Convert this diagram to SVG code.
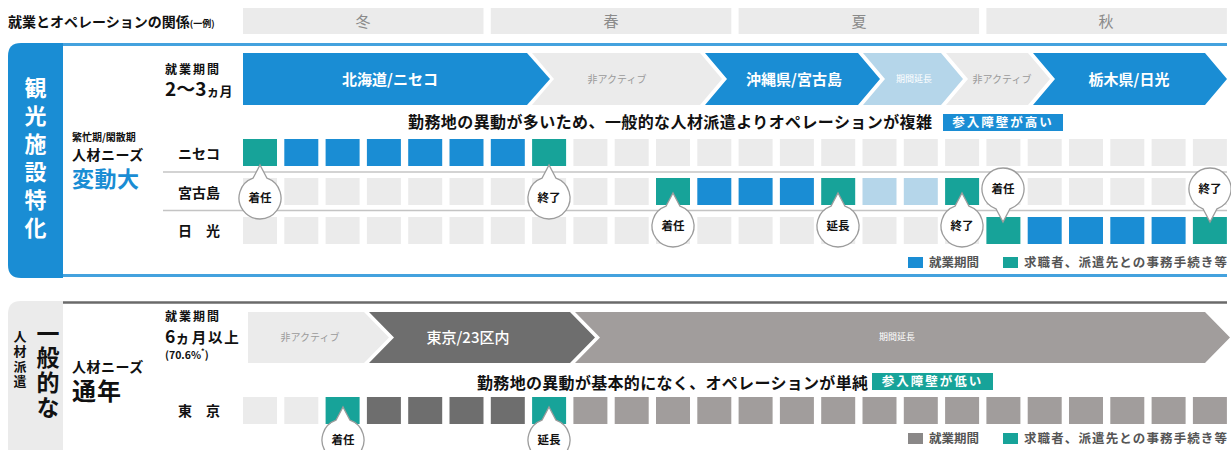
<svg xmlns="http://www.w3.org/2000/svg" xmlns:xlink="http://www.w3.org/1999/xlink" width="1231" height="450" viewBox="0 0 1231 450">
<style>
text{font-family:"Noto Sans CJK JP","Noto Sans",sans-serif;font-weight:700;fill:#111}
.g{fill:#ebebeb}.b{fill:#1a8dd4}.t{fill:#17a399}.lb{fill:#b5d6ea}.dg{fill:#6e6e6e}.mg{fill:#a19d9c}
.season{fill:#8a8a8a;font-size:15px;font-weight:400;text-anchor:middle}
.chw{fill:#fff;font-size:15px;text-anchor:middle}
.chg{fill:#9a9a9a;font-size:10px;font-weight:400;text-anchor:middle}
.chs{fill:#fff;font-size:9px;font-weight:400;text-anchor:middle}
.row{font-size:14px}
.co{fill:#fff;stroke:#9c9c9c;stroke-width:1.3}
.cot{font-size:11.5px;text-anchor:middle}
.leg{font-size:12.5px;fill:#555}
.rl{stroke:#c4c4c4;stroke-width:1.5}
.vt{writing-mode:vertical-rl;text-orientation:upright}
</style>
<defs>
<path id="cu" d="M-7,-19.8 L0,-33 L7,-19.8 A21,21 0 1 1 -7,-19.8 Z"/>
<path id="cd" d="M-7,19.8 L0,33 L7,19.8 A21,21 0 1 0 -7,19.8 Z"/>
</defs>
<rect width="1231" height="450" fill="#fff"/>

<g id="header">
<text x="8" y="27" font-size="14">就業とオペレーションの関係<tspan font-size="9">(一例)</tspan></text>
<rect class="g" x="243" y="8" width="240.5" height="26"/>
<rect class="g" x="490.8" y="8" width="240.5" height="26"/>
<rect class="g" x="738.6" y="8" width="240.5" height="26"/>
<rect class="g" x="986.4" y="8" width="240.5" height="26"/>
<text class="season" x="363" y="27">冬</text>
<text class="season" x="611" y="27">春</text>
<text class="season" x="859" y="27">夏</text>
<text class="season" x="1106" y="27">秋</text>
</g>

<g id="panel-tourism">
<line x1="55" y1="44.5" x2="1227" y2="44.5" stroke="#44a2de" stroke-width="3"/>
<line x1="55" y1="275.5" x2="1227" y2="275.5" stroke="#44a2de" stroke-width="3"/>
<path d="M63,43 L63,278 L21,278 Q8,278 8,265 L8,56 Q8,43 21,43 Z" fill="#1a8dd4"/>
<text class="vt" x="35.5" y="77" font-size="22" letter-spacing="6" style="fill:#fff">観光施設特化</text>
<text x="72" y="141" font-size="10">繁忙期/閑散期</text>
<text x="72" y="160" font-size="14" letter-spacing="0.5">人材ニーズ</text>
<text x="72" y="187" font-size="22" style="fill:#1a8dd4" letter-spacing="0.5">変動大</text>
<text x="165" y="74" font-size="12" letter-spacing="2">就業期間</text>
<text x="165" y="96" font-size="19">2〜3<tspan font-size="13">ヵ月</tspan></text>
</g>

<g id="chevrons-tourism">
<polygon class="b" points="243,53 527,53 550,79 527,105 243,105"/>
<polygon class="g" points="532,53 700,53 722,79 700,105 532,105 554,79"/>
<polygon class="b" points="705,53 858,53 880,79 858,105 705,105 727,79"/>
<polygon class="lb" points="863,53 941,53 963,79 941,105 863,105 885,79"/>
<polygon class="g" points="946,53 1028,53 1050,79 1028,105 946,105 968,79"/>
<polygon class="b" points="1033,53 1205,53 1227,79 1205,105 1033,105 1055,79"/>
<text class="chw" x="390" y="85">北海道/ニセコ</text>
<text class="chg" x="617" y="83">非アクティブ</text>
<text class="chw" x="794" y="85">沖縄県/宮古島</text>
<text class="chs" x="914" y="82">期間延長</text>
<text class="chg" x="1002" y="83">非アクティブ</text>
<text class="chw" x="1129" y="85">栃木県/日光</text>
</g>

<g id="note-tourism">
<text x="408" y="128" font-size="16" textLength="524">勤務地の異動が多いため、一般的な人材派遣よりオペレーションが複雑</text>
<rect class="b" x="943" y="114" width="120" height="17"/>
<text x="1003" y="127" font-size="12.5" text-anchor="middle" letter-spacing="2" style="fill:#fff">参入障壁が高い</text>
</g>

<g id="rows-tourism">
<line class="rl" x1="163" y1="172" x2="1227" y2="172"/>
<line class="rl" x1="163" y1="210.5" x2="1227" y2="210.5"/>
<text class="row" x="178" y="159">ニセコ</text>
<text class="row" x="178" y="198">宮古島</text>
<text class="row" x="178" y="236">日　光</text>
</g>

<g id="row-niseko">
<rect class="t" x="243" y="139" width="34" height="27"/>
<rect class="b" x="284.3" y="139" width="34" height="27"/>
<rect class="b" x="325.6" y="139" width="34" height="27"/>
<rect class="b" x="366.9" y="139" width="34" height="27"/>
<rect class="b" x="408.2" y="139" width="34" height="27"/>
<rect class="b" x="449.5" y="139" width="34" height="27"/>
<rect class="b" x="490.8" y="139" width="34" height="27"/>
<rect class="t" x="532.1" y="139" width="34" height="27"/>
<rect class="g" x="573.4" y="139" width="34" height="27"/>
<rect class="g" x="614.7" y="139" width="34" height="27"/>
<rect class="g" x="656" y="139" width="34" height="27"/>
<rect class="g" x="697.3" y="139" width="34" height="27"/>
<rect class="g" x="738.6" y="139" width="34" height="27"/>
<rect class="g" x="779.9" y="139" width="34" height="27"/>
<rect class="g" x="821.2" y="139" width="34" height="27"/>
<rect class="g" x="862.5" y="139" width="34" height="27"/>
<rect class="g" x="903.8" y="139" width="34" height="27"/>
<rect class="g" x="945.1" y="139" width="34" height="27"/>
<rect class="g" x="986.4" y="139" width="34" height="27"/>
<rect class="g" x="1027.7" y="139" width="34" height="27"/>
<rect class="g" x="1069" y="139" width="34" height="27"/>
<rect class="g" x="1110.3" y="139" width="34" height="27"/>
<rect class="g" x="1151.6" y="139" width="34" height="27"/>
<rect class="g" x="1192.9" y="139" width="34" height="27"/>
</g>

<g id="row-miyakojima">
<rect class="g" x="243" y="178" width="34" height="27"/>
<rect class="g" x="284.3" y="178" width="34" height="27"/>
<rect class="g" x="325.6" y="178" width="34" height="27"/>
<rect class="g" x="366.9" y="178" width="34" height="27"/>
<rect class="g" x="408.2" y="178" width="34" height="27"/>
<rect class="g" x="449.5" y="178" width="34" height="27"/>
<rect class="g" x="490.8" y="178" width="34" height="27"/>
<rect class="g" x="532.1" y="178" width="34" height="27"/>
<rect class="g" x="573.4" y="178" width="34" height="27"/>
<rect class="g" x="614.7" y="178" width="34" height="27"/>
<rect class="t" x="656" y="178" width="34" height="27"/>
<rect class="b" x="697.3" y="178" width="34" height="27"/>
<rect class="b" x="738.6" y="178" width="34" height="27"/>
<rect class="b" x="779.9" y="178" width="34" height="27"/>
<rect class="t" x="821.2" y="178" width="34" height="27"/>
<rect class="lb" x="862.5" y="178" width="34" height="27"/>
<rect class="lb" x="903.8" y="178" width="34" height="27"/>
<rect class="t" x="945.1" y="178" width="34" height="27"/>
<rect class="g" x="986.4" y="178" width="34" height="27"/>
<rect class="g" x="1027.7" y="178" width="34" height="27"/>
<rect class="g" x="1069" y="178" width="34" height="27"/>
<rect class="g" x="1110.3" y="178" width="34" height="27"/>
<rect class="g" x="1151.6" y="178" width="34" height="27"/>
<rect class="g" x="1192.9" y="178" width="34" height="27"/>
</g>

<g id="row-nikko">
<rect class="g" x="243" y="217" width="34" height="27"/>
<rect class="g" x="284.3" y="217" width="34" height="27"/>
<rect class="g" x="325.6" y="217" width="34" height="27"/>
<rect class="g" x="366.9" y="217" width="34" height="27"/>
<rect class="g" x="408.2" y="217" width="34" height="27"/>
<rect class="g" x="449.5" y="217" width="34" height="27"/>
<rect class="g" x="490.8" y="217" width="34" height="27"/>
<rect class="g" x="532.1" y="217" width="34" height="27"/>
<rect class="g" x="573.4" y="217" width="34" height="27"/>
<rect class="g" x="614.7" y="217" width="34" height="27"/>
<rect class="g" x="656" y="217" width="34" height="27"/>
<rect class="g" x="697.3" y="217" width="34" height="27"/>
<rect class="g" x="738.6" y="217" width="34" height="27"/>
<rect class="g" x="779.9" y="217" width="34" height="27"/>
<rect class="g" x="821.2" y="217" width="34" height="27"/>
<rect class="g" x="862.5" y="217" width="34" height="27"/>
<rect class="g" x="903.8" y="217" width="34" height="27"/>
<rect class="g" x="945.1" y="217" width="34" height="27"/>
<rect class="t" x="986.4" y="217" width="34" height="27"/>
<rect class="b" x="1027.7" y="217" width="34" height="27"/>
<rect class="b" x="1069" y="217" width="34" height="27"/>
<rect class="b" x="1110.3" y="217" width="34" height="27"/>
<rect class="b" x="1151.6" y="217" width="34" height="27"/>
<rect class="t" x="1192.9" y="217" width="34" height="27"/>
</g>

<g id="callouts-tourism">
<use href="#cu" class="co" transform="translate(260,198)"/><text class="cot" x="260" y="202">着任</text>
<use href="#cu" class="co" transform="translate(549,198)"/><text class="cot" x="549" y="202">終了</text>
<use href="#cu" class="co" transform="translate(673,226)"/><text class="cot" x="673" y="230">着任</text>
<use href="#cu" class="co" transform="translate(838,226)"/><text class="cot" x="838" y="230">延長</text>
<use href="#cu" class="co" transform="translate(962,226)"/><text class="cot" x="962" y="230">終了</text>
<use href="#cd" class="co" transform="translate(1003,189)"/><text class="cot" x="1003" y="193">着任</text>
<use href="#cd" class="co" transform="translate(1210,189)"/><text class="cot" x="1210" y="193">終了</text>
</g>

<g id="legend-tourism">
<rect class="b" x="908" y="257" width="15" height="11"/>
<text class="leg" x="929" y="267">就業期間</text>
<rect class="t" x="1003" y="257" width="15" height="11"/>
<text class="leg" x="1024" y="267" textLength="203">求職者、派遣先との事務手続き等</text>
</g>

<g id="panel-general">
<line x1="55" y1="302.5" x2="1227" y2="302.5" stroke="#6a6a6a" stroke-width="2.5"/>
<path d="M63,301 L63,450 L8,450 L8,314 Q8,301 21,301 Z" fill="#ebebeb"/>
<text class="vt" x="48" y="321.5" font-size="23" letter-spacing="1.7">一般的な</text>
<text class="vt" x="20" y="329.5" font-size="13" letter-spacing="2">人材派遣</text>
<text x="72" y="372" font-size="14" letter-spacing="0.5">人材ニーズ</text>
<text x="72" y="400" font-size="24" letter-spacing="1">通年</text>
<text x="165" y="321" font-size="12" letter-spacing="2">就業期間</text>
<text x="165" y="343" font-size="17.5">6<tspan font-size="14.5" letter-spacing="1.8">ヵ月以上</tspan></text>
<text x="165" y="359" font-size="10.5">(70.6%<tspan font-size="7" baseline-shift="super">*</tspan>)</text>
</g>

<g id="chevrons-general">
<polygon class="g" points="248,312 364,312 389,337.5 364,363 248,363"/>
<polygon class="dg" points="369,312 570,312 595,337.5 570,363 369,363 394,337.5"/>
<polygon class="mg" points="575,312 1205,312 1230,337.5 1205,363 575,363 600,337.5"/>
<text class="chg" x="310" y="341">非アクティブ</text>
<text class="chw" x="468" y="343" style="font-weight:500">東京/23区内</text>
<text class="chs" x="897" y="340">期間延長</text>
</g>

<g id="note-general">
<text x="477" y="389" font-size="16" textLength="391">勤務地の異動が基本的になく、オペレーションが単純</text>
<rect class="t" x="872" y="373" width="121" height="17"/>
<text x="932.5" y="386" font-size="12.5" text-anchor="middle" letter-spacing="2" style="fill:#fff">参入障壁が低い</text>
</g>

<g id="row-tokyo">
<text class="row" x="178" y="416">東　京</text>
<rect class="g" x="243" y="397" width="34" height="27"/>
<rect class="g" x="284.3" y="397" width="34" height="27"/>
<rect class="t" x="325.6" y="397" width="34" height="27"/>
<rect class="dg" x="366.9" y="397" width="34" height="27"/>
<rect class="dg" x="408.2" y="397" width="34" height="27"/>
<rect class="dg" x="449.5" y="397" width="34" height="27"/>
<rect class="dg" x="490.8" y="397" width="34" height="27"/>
<rect class="t" x="532.1" y="397" width="34" height="27"/>
<rect class="mg" x="573.4" y="397" width="34" height="27"/>
<rect class="mg" x="614.7" y="397" width="34" height="27"/>
<rect class="mg" x="656" y="397" width="34" height="27"/>
<rect class="mg" x="697.3" y="397" width="34" height="27"/>
<rect class="mg" x="738.6" y="397" width="34" height="27"/>
<rect class="mg" x="779.9" y="397" width="34" height="27"/>
<rect class="mg" x="821.2" y="397" width="34" height="27"/>
<rect class="mg" x="862.5" y="397" width="34" height="27"/>
<rect class="mg" x="903.8" y="397" width="34" height="27"/>
<rect class="mg" x="945.1" y="397" width="34" height="27"/>
<rect class="mg" x="986.4" y="397" width="34" height="27"/>
<rect class="mg" x="1027.7" y="397" width="34" height="27"/>
<rect class="mg" x="1069" y="397" width="34" height="27"/>
<rect class="mg" x="1110.3" y="397" width="34" height="27"/>
<rect class="mg" x="1151.6" y="397" width="34" height="27"/>
<rect class="mg" x="1192.9" y="397" width="34" height="27"/>
</g>

<g id="callouts-general">
<use href="#cu" class="co" transform="translate(343,440)"/><text class="cot" x="343" y="444">着任</text>
<use href="#cu" class="co" transform="translate(549,440)"/><text class="cot" x="549" y="444">延長</text>
</g>

<g id="legend-general">
<rect x="908" y="433" width="15" height="11" fill="#8a8888"/>
<text class="leg" x="929" y="443">就業期間</text>
<rect class="t" x="1003" y="433" width="15" height="11"/>
<text class="leg" x="1024" y="443" textLength="203">求職者、派遣先との事務手続き等</text>
</g>

<g id="connectors"/>
</svg>
